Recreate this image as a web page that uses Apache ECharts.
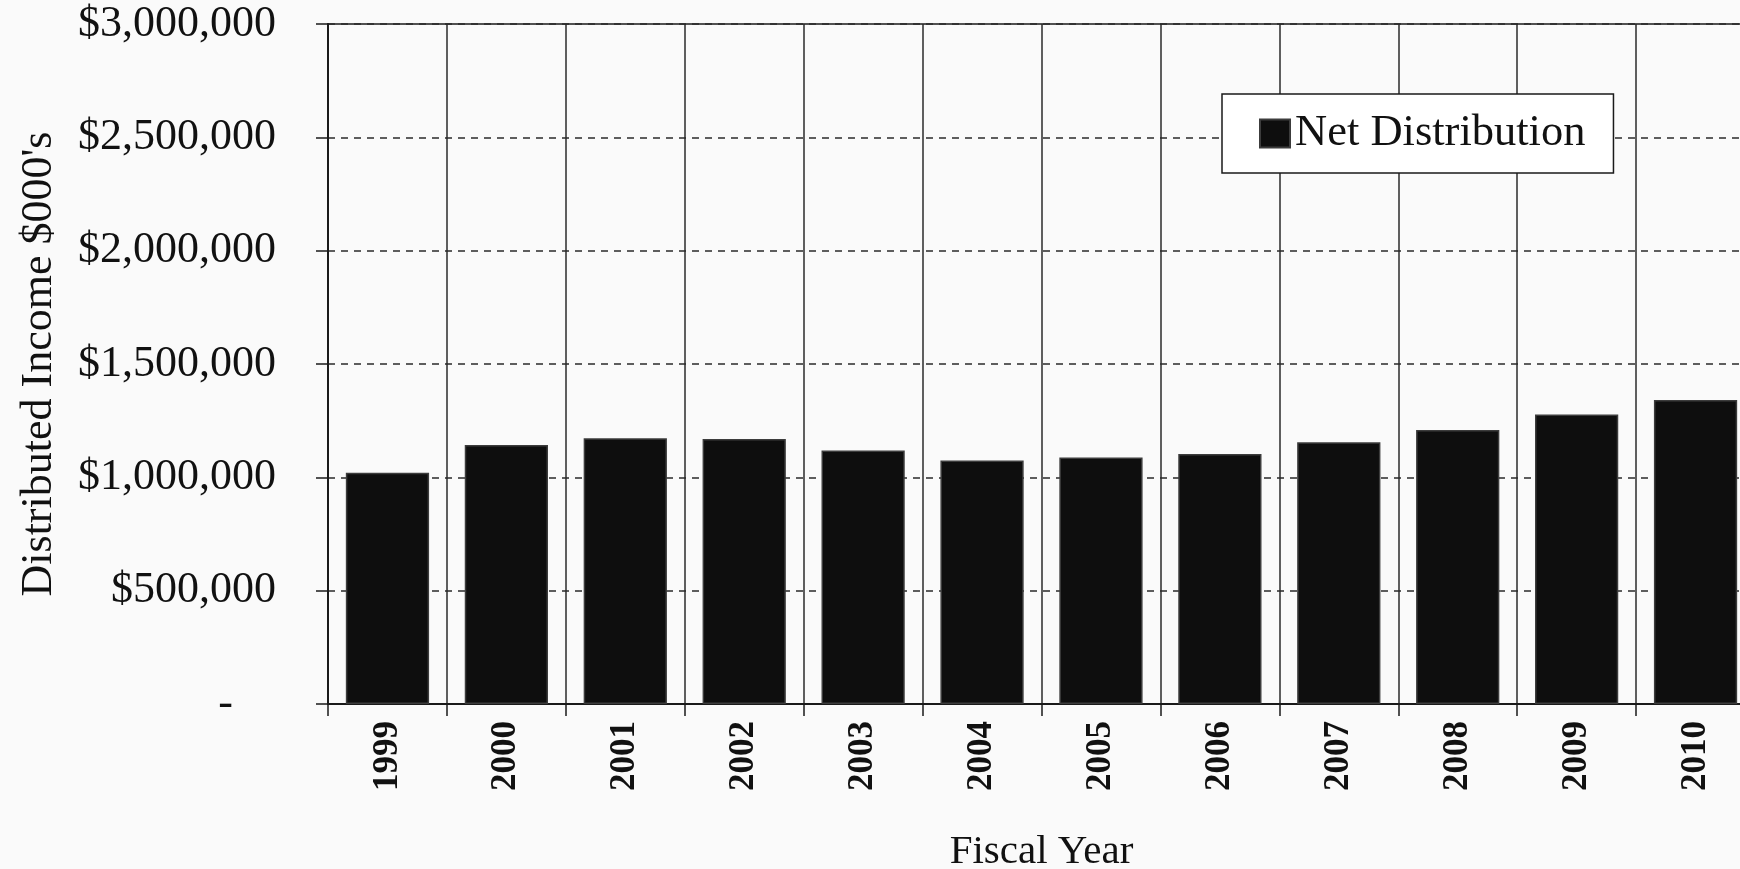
<!DOCTYPE html>
<html>
<head>
<meta charset="utf-8">
<script src="https://cdn.jsdelivr.net/npm/echarts@6/dist/echarts.min.js"></script>
<style>
  html, body { margin: 0; padding: 0; background: #fafafa; }
  #chart { width: 1740px; height: 869px; }
</style>
</head>
<body>
<div id="chart"></div>
<script>
// Fiscal years and net distributed income ($000's)
const years = ['1999', '2000', '2001', '2002', '2003', '2004', '2005', '2006', '2007', '2008', '2009', '2010'];
const netDistribution = [1020000, 1143000, 1172000, 1169000, 1118000, 1074000, 1088000, 1103000, 1155000, 1209000, 1277000, 1341000];
const yTicks = [0, 500000, 1000000, 1500000, 2000000, 2500000, 3000000];

const serif = '"Liberation Serif", "DejaVu Serif", serif';

function moneyLabel(v) {
  if (v === 0) return '{z|-}';
  return '$' + v.toLocaleString('en-US');
}

const chart = echarts.init(document.getElementById('chart'));
chart.setOption({
  backgroundColor: '#fafafa',
  animation: false,
  grid: {
    left: 328,
    top: 24,
    width: 1427,
    bottom: 165,
    outerBoundsMode: 'none',
    containLabel: false,
    show: true,
    borderColor: '#1a1a1a',
    borderWidth: 1.5,
    backgroundColor: 'transparent'
  },
  legend: {
    left: 1222,
    top: 94,
    orient: 'horizontal',
    backgroundColor: '#ffffff',
    borderColor: '#1a1a1a',
    borderWidth: 1.5,
    borderRadius: 0,
    padding: [17, 28, 17, 37],
    icon: 'rect',
    itemWidth: 30,
    itemHeight: 28,
    textStyle: { fontFamily: serif, fontSize: 44.5, color: '#111' },
    data: ['Net Distribution']
  },
  xAxis: {
    type: 'category',
    data: years,
    boundaryGap: true,
    name: 'Fiscal Year',
    nameLocation: 'middle',
    nameGap: 128,
    nameTextStyle: { fontFamily: serif, fontSize: 41, color: '#111' },
    axisLine: { lineStyle: { color: '#1a1a1a', width: 2 } },
    axisTick: { show: true, length: 12, lineStyle: { color: '#1a1a1a', width: 1.5 } },
    axisLabel: {
      rotate: 90,
      margin: 17,
      fontFamily: serif,
      fontSize: 35,
      fontWeight: 'bold',
      color: '#111'
    },
    splitLine: { show: true, lineStyle: { color: '#2a2a2a', width: 1.5, type: 'solid' } }
  },
  yAxis: {
    type: 'value',
    min: 0,
    max: 3000000,
    interval: 500000,
    name: "Distributed Income $000's",
    nameLocation: 'middle',
    nameGap: 267,
    nameRotate: 90,
    nameTextStyle: { fontFamily: serif, fontSize: 44, color: '#111' },
    axisLine: { show: true, lineStyle: { color: '#1a1a1a', width: 2 } },
    axisTick: { show: true, length: 12, lineStyle: { color: '#1a1a1a', width: 1.5 } },
    axisLabel: {
      margin: 52,
      fontFamily: serif,
      fontSize: 44,
      color: '#111',
      formatter: moneyLabel,
      rich: {
        z: { fontFamily: serif, fontSize: 44, color: '#111', padding: [0, 43, 0, 0] }
      }
    },
    splitLine: { show: true, lineStyle: { color: '#2a2a2a', width: 1.5, type: [7, 6] } }
  },
  series: [{
    name: 'Net Distribution',
    type: 'bar',
    data: netDistribution,
    barWidth: '70%',
    itemStyle: { color: '#0e0e0e', borderColor: '#3c3c3c', borderWidth: 1.5 }
  }]
});
</script>
</body>
</html>
